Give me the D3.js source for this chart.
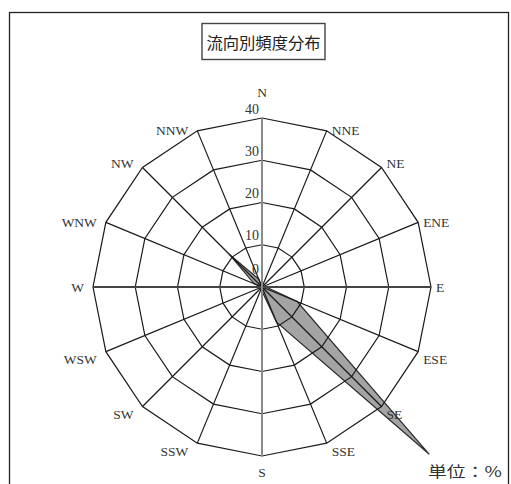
<!DOCTYPE html>
<html>
<head>
<meta charset="utf-8">
<script src="https://cdn.jsdelivr.net/npm/d3@7"></script>
<style>
  html, body { margin: 0; padding: 0; background: #fff; }
  svg { display: block; }
</style>
</head>
<body>
<svg id="chart" width="511" height="484"></svg>
<script>
// ---- data ----
const directions = ["N","NNE","NE","ENE","E","ESE","SE","SSE","S","SSW","SW","WSW","W","WNW","NW","NNW"];
const frequency  = [0, 0, 0, 0, 1, 9, 56, 9, 1, 0, 0, 0, 0, 2, 11, 2];
const ringTicks  = [0, 10, 20, 30, 40];
const titleText  = "流向別頻度分布";
const unitText   = "単位：%";

// ---- layout ----
const svg = d3.select("#chart");
const cx = 262, cy = 287;
const r = d3.scaleLinear().domain([0, 40]).range([0, 169]);
const ang = d3.scalePoint().domain(directions).range([0, 360 - 360 / directions.length]);
const rad = d => ang(d) * Math.PI / 180;
const px = (d, v) => cx + r(v) * Math.sin(rad(d));
const py = (d, v) => cy - r(v) * Math.cos(rad(d));

// outer frame
svg.append("rect").attr("x", 9.5).attr("y", 12.5).attr("width", 499).attr("height", 490)
  .attr("fill", "none").attr("stroke", "#222").attr("stroke-width", 1.3);

// title box
svg.append("rect").attr("x", 202).attr("y", 23.5).attr("width", 123).attr("height", 36)
  .attr("fill", "#fff").attr("stroke", "#444").attr("stroke-width", 1.4);
svg.append("text").attr("x", 263.5).attr("y", 41.5)
  .attr("text-anchor", "middle").attr("dominant-baseline", "central")
  .attr("font-family", "Noto Sans CJK JP").attr("font-size", 16)
  .attr("textLength", 114).attr("lengthAdjust", "spacingAndGlyphs")
  .attr("fill", "#222").text(titleText);

// data polygon (drawn under grid)
const line = d3.line().curve(d3.curveLinearClosed);
svg.append("path")
  .attr("d", line(directions.map((d, i) => [px(d, frequency[i]), py(d, frequency[i])])))
  .attr("fill", "#a4a4a4").attr("stroke", "#2a2a2a").attr("stroke-width", 1.2);

// rings (16-gon)
const g = svg.append("g");
ringTicks.filter(v => v > 0).forEach(v => {
  g.append("path")
    .attr("d", line(directions.map(d => [px(d, v), py(d, v)])))
    .attr("fill", "none").attr("stroke", "#1a1a1a").attr("stroke-width", 1.2);
});

// spokes
directions.forEach(d => {
  const main = ["N","S","E","W"].includes(d);
  if (main) return;
  g.append("line")
    .attr("x1", cx).attr("y1", cy).attr("x2", px(d, 40)).attr("y2", py(d, 40))
    .attr("stroke", "#1a1a1a").attr("stroke-width", 1.2);
});
// main axes
g.append("line").attr("x1", px("W", 40)).attr("y1", cy).attr("x2", px("E", 40)).attr("y2", cy)
  .attr("stroke", "#444").attr("stroke-width", 1.8);
g.append("line").attr("x1", cx).attr("y1", py("N", 40)).attr("x2", cx).attr("y2", py("S", 40))
  .attr("stroke", "#8a8a8a").attr("stroke-width", 2);

// direction labels
const serif = "Liberation Serif";
directions.forEach(d => {
  const a = rad(d);
  const s = Math.sin(a), c = Math.cos(a);
  const vx = px(d, 40), vy = py(d, 40);
  let x, y, anchor;
  if (Math.abs(s) < 0.01) {
    anchor = "middle"; x = vx;
    y = c > 0 ? vy - 26 : vy + 16;
  } else {
    anchor = s > 0 ? "start" : "end";
    x = s > 0 ? vx + 5 : vx - 9;
    y = vy + (c < -0.1 ? 8 : (c > 0.5 && c < 0.8 ? -4 : 0));
  }
  svg.append("text").attr("x", x).attr("y", y)
    .attr("text-anchor", anchor).attr("dominant-baseline", "central")
    .attr("font-family", serif).attr("font-size", 13.5).attr("fill", "#333")
    .text(d);
});

// ring labels
ringTicks.forEach(v => {
  svg.append("text")
    .attr("x", cx - 3).attr("y", cy - r(v) - 9 - (v === 0 ? 9 : 0))
    .attr("text-anchor", "end").attr("dominant-baseline", "central")
    .attr("font-family", serif).attr("font-size", 14).attr("fill", "#333")
    .text(v);
});

// unit label
svg.append("text").attr("x", 428).attr("y", 470)
  .attr("dominant-baseline", "central")
  .attr("font-family", "Noto Sans CJK JP").attr("font-size", 15)
  .attr("textLength", 74).attr("lengthAdjust", "spacingAndGlyphs")
  .attr("fill", "#333").text(unitText);
</script>
</body>
</html>
